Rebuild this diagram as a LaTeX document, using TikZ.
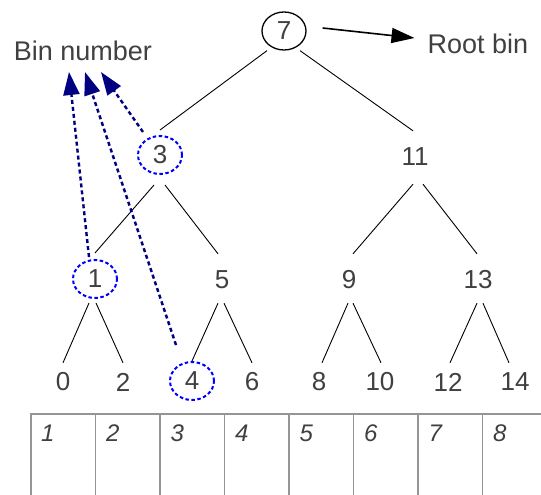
\documentclass[tikz,border=0pt]{standalone}
\usepackage{fontspec}
\setmainfont{Liberation Sans}
\usetikzlibrary{shapes.geometric,arrows.meta,calc}
\definecolor{txt}{HTML}{404040}
\definecolor{navyc}{HTML}{000080}
\definecolor{gridc}{HTML}{959595}
\begin{document}
\begin{tikzpicture}[x=1pt,y=-1pt,
  bn/.style={ellipse,minimum width=44pt,minimum height=38pt,inner sep=0pt,
    font=\fontsize{26}{30}\selectfont,text=txt},
  rootc/.style={bn,draw=black,line width=1.3pt},
  selc/.style={bn,draw=blue,line width=2pt,dash pattern=on 3.5pt off 2.5pt},
  edge/.style={draw=black,line width=0.9pt},
  ptr/.style={draw=navyc,line width=2.4pt,dash pattern=on 4pt off 3pt,
    -{Triangle[length=23pt,width=16pt,fill=navyc]}},
  rarrow/.style={draw=black,line width=1.6pt,-{Triangle[length=23pt,width=15pt]}},
  lbl/.style={inner sep=0pt,font=\fontsize{27}{32}\selectfont,text=txt},
  gridline/.style={draw=gridc,line width=1.3pt},
  cellnum/.style={inner sep=0pt,anchor=west,font=\fontsize{24}{28}\selectfont\itshape,text=txt}]
\useasboundingbox[fill=white] (0,0) rectangle (541,495);

% tree nodes
\node[rootc] (n7) at (284,31) {7};
\node[selc] (n3) at (160,155) {3};
\node[bn] (n11) at (415,157) {11};
\node[selc] (n1) at (95,279) {1};
\node[bn] (n5) at (222,280) {5};
\node[bn] (n9) at (349,280) {9};
\node[bn] (n13) at (478,280) {13};
\node[bn] (n0) at (63,382) {0};
\node[bn] (n2) at (123,382) {2};
\node[selc] (n4) at (192,381) {4};
\node[bn] (n6) at (252,382) {6};
\node[bn] (n8) at (319,382) {8};
\node[bn] (n10) at (380,382) {10};
\node[bn] (n12) at (448,382) {12};
\node[bn] (n14) at (515,382) {14};

% labels
\node[lbl] (binnum) at (83,51) {Bin number};
\node[lbl] (rootbin) at (478,44) {Root bin};

% tree edges
\draw[edge] ([xshift=-17pt]n7.south) -- ([yshift=5pt]n3.north);
\draw[edge] ([xshift=16pt]n7.south) -- ([xshift=-2pt,yshift=7pt]n11.north);
\draw[edge] ([xshift=-6pt,yshift=-10pt]n3.south) -- ([yshift=6pt]n1.north);
\draw[edge] ([xshift=5pt,yshift=-10pt]n3.south) -- ([xshift=-4pt,yshift=7pt]n5.north);
\draw[edge] ([xshift=-2pt,yshift=-8pt]n11.south) -- ([xshift=4pt,yshift=7pt]n9.north);
\draw[edge] ([xshift=8pt,yshift=-8pt]n11.south) -- ([xshift=-1pt,yshift=7pt]n13.north);
\draw[edge] ([xshift=-6pt,yshift=-4pt]n1.south) -- (n0.north);
\draw[edge] ([xshift=1pt,yshift=-4pt]n1.south) -- (n2.north);
\draw[edge] ([xshift=-4pt,yshift=-4pt]n5.south) -- (n4.north);
\draw[edge] ([xshift=2pt,yshift=-4pt]n5.south) -- (n6.north);
\draw[edge] ([xshift=-1pt,yshift=-4pt]n9.south) -- ([xshift=3pt]n8.north);
\draw[edge] ([xshift=4pt,yshift=-4pt]n9.south) -- ([xshift=1pt]n10.north);
\draw[edge] ([xshift=-1pt,yshift=-4pt]n13.south) -- ([xshift=2pt]n12.north);
\draw[edge] ([xshift=5pt,yshift=-4pt]n13.south) -- ([xshift=-6pt]n14.north);

% pointer arrows to "Bin number"
\coordinate (t1) at (69,72);
\coordinate (t2) at (85,72);
\coordinate (t3) at (101,72);
\draw[ptr] ([xshift=-6pt,yshift=2pt]n1.north) -- (t1);
\draw[ptr] ([xshift=-16pt,yshift=16pt]n4.north) -- (t2);
\draw[ptr] ([xshift=-17pt,yshift=3pt]n3.north) -- (t3);

% root arrow
\draw[rarrow] ([xshift=16pt,yshift=3pt]n7.east) -- ([xshift=-13pt,yshift=6pt]rootbin.west);

% bin table
\draw[gridline] (31,495) -- (31,414) -- (541,414);
\foreach \x in {95.5,160,224.5,289,353.5,418,482.5}
  \draw[gridline] (\x,414) -- (\x,495);
\node[cellnum] (c1) at (41,433) {1};
\node[cellnum] (c2) at (106,433) {2};
\node[cellnum] (c3) at (170.5,433) {3};
\node[cellnum] (c4) at (235,433) {4};
\node[cellnum] (c5) at (299.5,433) {5};
\node[cellnum] (c6) at (364,433) {6};
\node[cellnum] (c7) at (428.5,433) {7};
\node[cellnum] (c8) at (493,433) {8};
\end{tikzpicture}
\end{document}
